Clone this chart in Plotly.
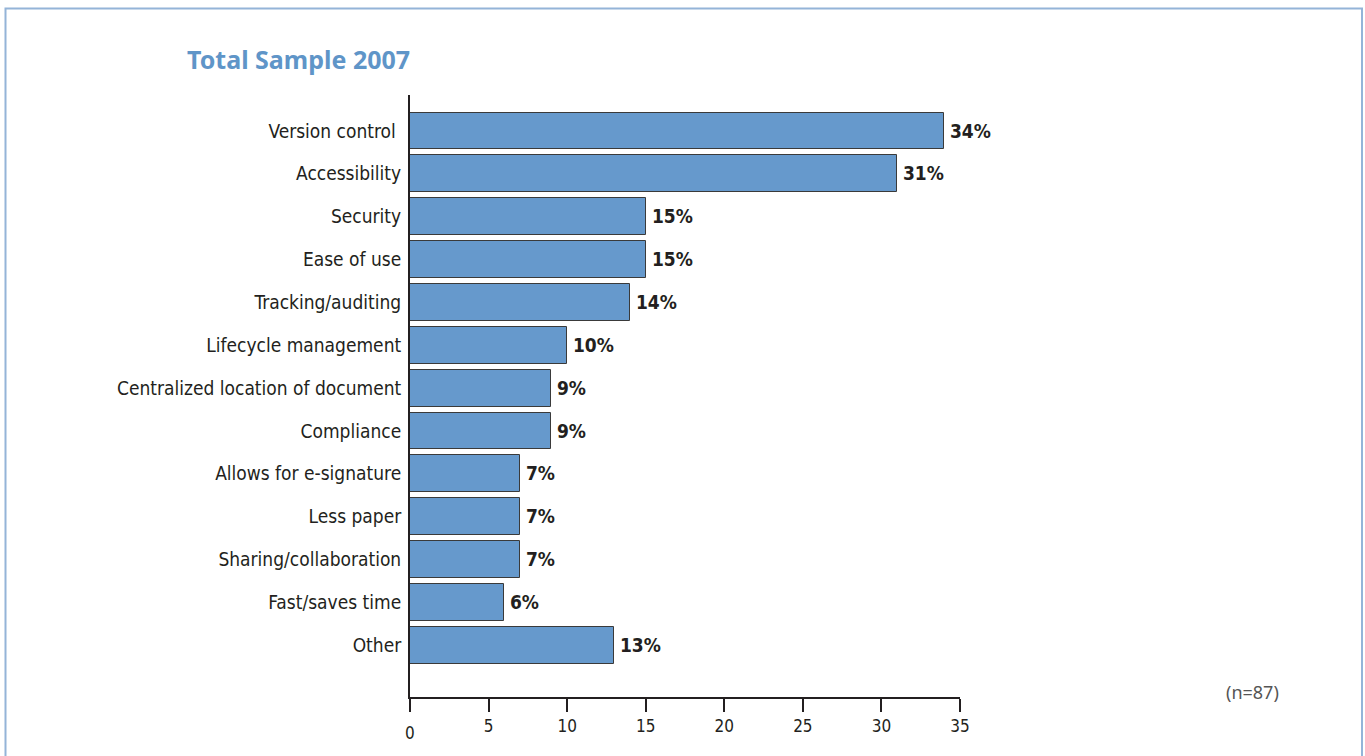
import plotly.graph_objects as go

# Survey responses, top to bottom
categories = [
    "Version control ",
    "Accessibility",
    "Security",
    "Ease of use",
    "Tracking/auditing",
    "Lifecycle management",
    "Centralized location of document",
    "Compliance",
    "Allows for e-signature",
    "Less paper",
    "Sharing/collaboration",
    "Fast/saves time",
    "Other",
]
percents = [34, 31, 15, 15, 14, 10, 9, 9, 7, 7, 7, 6, 13]
x_ticks = [0, 5, 10, 15, 20, 25, 30, 35]

W, H = 1365, 756
L, R, T, B = 410, 960, 95, 697  # plot area in pixels

BAR = "#6699CC"
TXT = "#231F20"
FONT = "DejaVu Sans Condensed, Arial Narrow, sans-serif"

fig = go.Figure(
    go.Bar(
        y=list(range(len(categories))),
        x=percents,
        orientation="h",
        width=0.86,
        marker=dict(color=BAR, line=dict(color="#3a3a3a", width=1)),
        text=[f"\u2009{v}%" for v in percents],
        textposition="outside",
        textfont=dict(family=FONT, size=19, color=TXT, weight="bold"),
        cliponaxis=False,
        hoverinfo="skip",
    )
)

# convert pixel positions to paper coordinates for decorations
def px(x):
    return (x - L) / (R - L)

def py(y):
    return (B - y) / (B - T)

# the zero label sits slightly lower than the others
tick_text = ["" if t == 0 else str(t) for t in x_ticks]

fig.update_layout(
    width=W,
    height=H,
    margin=dict(l=L, r=W - R, t=T, b=H - B, pad=0),
    paper_bgcolor="white",
    plot_bgcolor="white",
    showlegend=False,
    bargap=0,
    xaxis=dict(
        range=[0, 35],
        tickvals=x_ticks,
        ticktext=tick_text,
        showgrid=False,
        zeroline=False,
        showline=True,
        linecolor="#231F20",
        linewidth=2,
        ticks="outside",
        ticklen=13,
        tickwidth=2,
        tickcolor="#231F20",
        tickfont=dict(family=FONT, size=17, color=TXT),
        fixedrange=True,
    ),
    yaxis=dict(
        range=[13.21, -0.84],
        tickvals=list(range(len(categories))),
        ticktext=categories,
        showgrid=False,
        zeroline=False,
        showline=True,
        linecolor="#231F20",
        linewidth=2,
        ticks="",
        ticklabelstandoff=3,
        tickfont=dict(family=FONT, size=19, color=TXT),
        fixedrange=True,
    ),
    shapes=[
        dict(
            type="rect",
            xref="paper",
            yref="paper",
            x0=px(5.5),
            x1=px(1362),
            y0=py(770),
            y1=py(8.5),
            line=dict(color="#94B4D8", width=2),
            fillcolor="rgba(0,0,0,0)",
            layer="below",
        )
    ],
    annotations=[
        dict(
            text="<b>Total Sample 2007</b>",
            xref="paper",
            yref="paper",
            x=px(185),
            y=py(59),
            xanchor="left",
            yanchor="middle",
            showarrow=False,
            font=dict(family="Noto Sans, Open Sans, sans-serif", size=25, color="#5F95C8"),
        ),
        dict(
            text="(n=87)",
            xref="paper",
            yref="paper",
            x=px(1281),
            y=py(692),
            xanchor="right",
            yanchor="middle",
            showarrow=False,
            font=dict(family="Noto Sans, sans-serif", size=18, color="#555555"),
        ),
        dict(
            text="0",
            xref="x",
            yref="paper",
            x=0,
            y=py(733),
            xanchor="center",
            yanchor="middle",
            showarrow=False,
            font=dict(family=FONT, size=17, color=TXT),
        ),
    ],
)

fig.write_html("out.html")
